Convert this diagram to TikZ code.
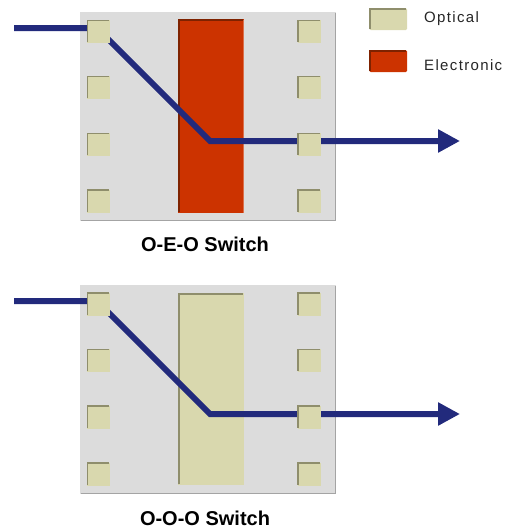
\documentclass[tikz,border=0pt]{standalone}
\usepackage{fontspec}
\setmainfont{Liberation Sans}
\usetikzlibrary{arrows.meta}
\definecolor{boxgray}{HTML}{DCDCDC}
\definecolor{boxshadow}{HTML}{A4A4A4}
\definecolor{optfill}{HTML}{D9D8AE}
\definecolor{optedge}{HTML}{8F8E6C}
\definecolor{elfill}{HTML}{CC3300}
\definecolor{eledge}{HTML}{7E2200}
\definecolor{fiber}{HTML}{222A7C}
\definecolor{legtext}{HTML}{262626}
\tikzset{
  panel/.style={fill=boxgray, minimum width=256pt, minimum height=209pt, inner sep=0pt, anchor=north west},
  port/.style={fill=optfill, minimum width=23pt, minimum height=23pt, inner sep=0pt},
  core/.style={minimum width=66pt, minimum height=194pt, inner sep=0pt, anchor=north west},
  fiberline/.style={draw=fiber, line width=6pt, line join=miter, -{Triangle[length=22pt,width=22pt]}},
  caption/.style={font=\fontsize{20}{22}\selectfont\bfseries, inner sep=0pt},
  legendlabel/.style={font=\fontsize{15}{16}\selectfont\addfontfeature{LetterSpace=9}, text=legtext, anchor=base west, inner sep=0pt},
  swatch/.style={minimum width=38pt, minimum height=22pt, inner sep=0pt, anchor=north west, rounded corners=1.5pt}
}
% inset edge on the left and top sides, drawn inside the node
\newcommand{\insetedge}[2]{%
  \draw[#2, line width=1.5pt] ([xshift=0.75pt,yshift=1pt]#1.south west) -- ([xshift=0.75pt,yshift=-0.75pt]#1.north west) -- ([xshift=-1pt,yshift=-0.75pt]#1.north east);}
\begin{document}
\begin{tikzpicture}[x=1pt,y=-1pt]
\useasboundingbox (0,0) rectangle (504,530);

% ---------- legend ----------
\node[swatch, fill=optfill] (legopt) at (369,8) {};
\insetedge{legopt}{optedge}
\node[legendlabel] (legoptt) at (424,22) {Optical};
\node[swatch, fill=elfill] (legel) at (369,50) {};
\insetedge{legel}{eledge}
\node[legendlabel] (legelt) at (424,70.5) {Electronic};

% ---------- O-E-O switch ----------
\node[panel] (p1) at (80,12) {};
\draw[boxshadow, line width=1.5pt] ([xshift=1pt,yshift=0.75pt]p1.south west) -- ([xshift=-0.75pt,yshift=0.75pt]p1.south east) -- ([xshift=-0.75pt,yshift=-1pt]p1.north east);
\node[core, fill=elfill] (c1) at (178,19) {};
\insetedge{c1}{eledge}
\draw[elfill!70!white, line width=1pt] ([xshift=-0.5pt,yshift=-1pt]c1.north east) -- ([xshift=-0.5pt]c1.south east);
\coordinate (in1) at (14,28);
\coordinate (k1) at (97,28);
\coordinate (b1) at (210,141);
\coordinate (out1) at (460,141);
\draw[fiberline] (in1) -- (k1) -- (b1) -- (out1);
\foreach \y [count=\i] in {31.5,87.5,144.5,201} {
  \node[port] (l1\i) at (98.5,\y) {};
  \insetedge{l1\i}{optedge}
  \node[port] (r1\i) at (309,\y) {};
  \insetedge{r1\i}{optedge}
}
\node[caption] (cap1) at (205,244.5) {O-E-O Switch};

% ---------- O-O-O switch ----------
\node[panel] (p2) at (80,285) {};
\draw[boxshadow, line width=1.5pt] ([xshift=1pt,yshift=0.75pt]p2.south west) -- ([xshift=-0.75pt,yshift=0.75pt]p2.south east) -- ([xshift=-0.75pt,yshift=-1pt]p2.north east);
\node[core, fill=optfill, minimum height=192pt] (c2) at (178,293) {};
\insetedge{c2}{optedge}
\coordinate (in2) at (14,301);
\coordinate (k2) at (97,301);
\coordinate (b2) at (210,414);
\coordinate (out2) at (460,414);
\draw[fiberline] (in2) -- (k2) -- (b2) -- (out2);
\foreach \y [count=\i] in {304,360.5,417,474} {
  \node[port] (l2\i) at (98.5,\y) {};
  \insetedge{l2\i}{optedge}
  \node[port] (r2\i) at (309,\y) {};
  \insetedge{r2\i}{optedge}
}
\node[caption] (cap2) at (205,518.5) {O-O-O Switch};
\end{tikzpicture}
\end{document}
